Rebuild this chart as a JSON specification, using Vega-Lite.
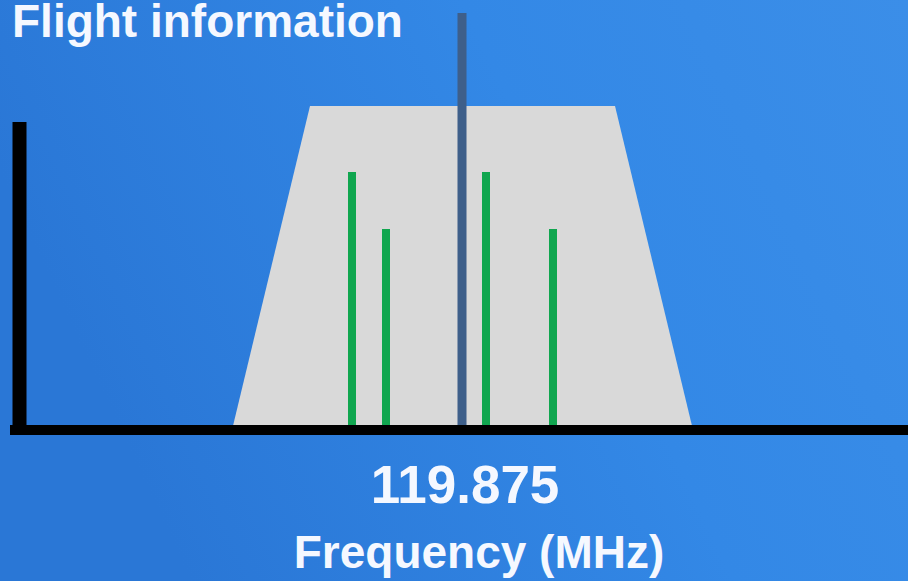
{
  "$schema": "https://vega.github.io/schema/vega-lite/v6.json",
  "width": 908,
  "height": 581,
  "autosize": {"type": "none"},
  "padding": 0,
  "background": "#3085e2",
  "config": {"view": {"stroke": null}},
  "layer": [
    {
      "data": {"values": [{"x": -462, "x2": 446, "y": -151, "y2": 430}]},
      "mark": {
        "type": "rect",
        "color": {
          "gradient": "linear",
          "x1": 0, "y1": 0.3, "x2": 1, "y2": 0,
          "stops": [
            {"offset": 0, "color": "#2a77d6"},
            {"offset": 0.55, "color": "#3388e6"},
            {"offset": 1, "color": "#3b8ee8"}
          ]
        }
      },
      "encoding": {
        "x": {"field": "x", "type": "quantitative", "scale": {"domain": [-462, 446], "nice": false, "zero": false}, "axis": null},
        "x2": {"field": "x2"},
        "y": {"field": "y", "type": "quantitative", "scale": {"domain": [-151, 430], "nice": false, "zero": false}, "axis": null},
        "y2": {"field": "y2"}
      }
    },
    {
      "data": {"values": [
        {"f": -230, "level": 0},
        {"f": -152, "level": 324},
        {"f": 153, "level": 324},
        {"f": 231, "level": 0}
      ]},
      "mark": {"type": "area", "color": "#d9d9d9", "opacity": 1, "interpolate": "linear"},
      "encoding": {
        "x": {"field": "f", "type": "quantitative", "sort": null},
        "y": {"field": "level", "type": "quantitative"},
        "y2": {"datum": 0}
      }
    },
    {
      "data": {"values": [
        {"f": -110, "lo": 5, "hi": 258},
        {"f": -76, "lo": 5, "hi": 201},
        {"f": 24, "lo": 5, "hi": 258},
        {"f": 91, "lo": 5, "hi": 201}
      ]},
      "mark": {"type": "rule", "color": "#10a64f", "strokeWidth": 8},
      "encoding": {
        "x": {"field": "f", "type": "quantitative"},
        "y": {"field": "lo", "type": "quantitative"},
        "y2": {"field": "hi"}
      }
    },
    {
      "data": {"values": [{"f": 0, "lo": 5, "hi": 417}]},
      "mark": {"type": "rule", "color": "#3e5f8a", "strokeWidth": 9},
      "encoding": {
        "x": {"field": "f", "type": "quantitative"},
        "y": {"field": "lo", "type": "quantitative"},
        "y2": {"field": "hi"}
      }
    },
    {
      "data": {"values": [{"f": -442.5, "lo": -5, "hi": 308}]},
      "mark": {"type": "rule", "color": "#000000", "strokeWidth": 14},
      "encoding": {
        "x": {"field": "f", "type": "quantitative"},
        "y": {"field": "lo", "type": "quantitative"},
        "y2": {"field": "hi"}
      }
    },
    {
      "data": {"values": [{"f1": -452, "f2": 446, "level": 0}]},
      "mark": {"type": "rule", "color": "#000000", "strokeWidth": 10},
      "encoding": {
        "x": {"field": "f1", "type": "quantitative"},
        "x2": {"field": "f2"},
        "y": {"field": "level", "type": "quantitative"}
      }
    },
    {
      "data": {"values": [
        {"label": "Flight information", "f": -450, "level": 393}
      ]},
      "mark": {"type": "text", "font": "Liberation Sans", "fontWeight": "bold", "color": "#f5f8ff", "baseline": "alphabetic", "align": "left", "fontSize": 46},
      "encoding": {
        "x": {"field": "f", "type": "quantitative"},
        "y": {"field": "level", "type": "quantitative"},
        "text": {"field": "label"}
      }
    },
    {
      "data": {"values": [
        {"label": "119.875", "f": 3, "level": -73, "size": 53},
        {"label": "Frequency (MHz)", "f": 17, "level": -138, "size": 46}
      ]},
      "mark": {"type": "text", "font": "Liberation Sans", "fontWeight": "bold", "color": "#f5f8ff", "baseline": "alphabetic", "align": "center"},
      "encoding": {
        "x": {"field": "f", "type": "quantitative"},
        "y": {"field": "level", "type": "quantitative"},
        "text": {"field": "label"},
        "size": {"field": "size", "type": "quantitative", "scale": null, "legend": null}
      }
    }
  ]
}
